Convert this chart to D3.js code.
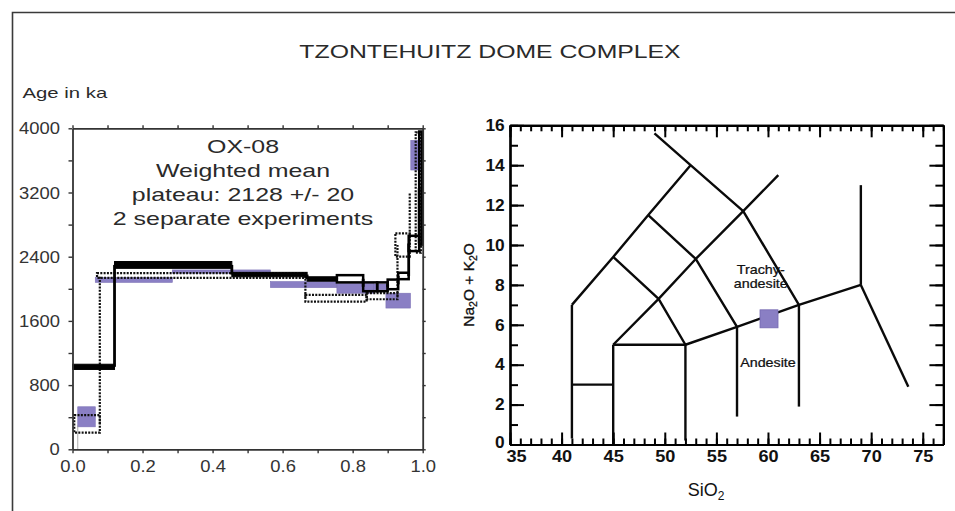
<!DOCTYPE html>
<html>
<head>
<meta charset="utf-8">
<script src="https://cdn.jsdelivr.net/npm/d3@7"></script>
<style>
  html, body { margin: 0; padding: 0; background: #fff; }
  svg { display: block; }
  text { font-family: "Liberation Sans", Arial, Helvetica, sans-serif; }
</style>
</head>
<body>
<svg id="chart" width="955" height="511"></svg>
<script>
// ---------------- DATA ----------------
const titleText = "TZONTEHUITZ DOME COMPLEX";
const ageAxisTitle = "Age in ka";
const infoLines = ["OX-08", "Weighted mean", "plateau: 2128 +/- 20", "2 separate experiments"];

// Age spectrum (x = cumulative fraction 39Ar, ages in ka) : [x0, x1, lowAge, highAge]
const expSolidFilled = [
  [0.000, 0.120, 995, 1060],
  [0.120, 0.455, 2255, 2340],
  [0.455, 0.670, 2150, 2205],
  [0.670, 0.755, 2095, 2150]
];
const expSolidOpen = [
  [0.755, 0.830, 2080, 2170],
  [0.830, 0.870, 1970, 2080],
  [0.870, 0.900, 1970, 2080],
  [0.900, 0.930, 1995, 2115],
  [0.930, 0.960, 2120, 2200],
  [0.960, 0.990, 2470, 2660],
  [0.990, 0.998, 2550, 3960]
];
const expPurple = [
  [0.015, 0.065, 280, 530],
  [0.065, 0.285, 2080, 2140],
  [0.285, 0.565, 2195, 2235],
  [0.565, 0.755, 2015, 2090],
  [0.755, 0.860, 1945, 2065],
  [0.860, 0.900, 1990, 2060],
  [0.895, 0.965, 1760, 1945],
  [0.966, 0.993, 3480, 3850]
];
const expDotted = [
  [0.005, 0.078, 207, 427],
  [0.070, 0.665, 2135, 2195],
  [0.665, 0.840, 1840, 1925],
  [0.840, 0.928, 1870, 1945],
  [0.922, 0.963, 2400, 2690],
  [0.980, 0.995, 2450, 3950]
];
const thinGrey = [[0.015, 0], [0.015, 300]];
const ageTicks = [0, 400, 800, 1200, 1600, 2000, 2400, 2800, 3200, 3600, 4000];
const ageTickLabels = [0, 800, 1600, 2400, 3200, 4000];
const fracTicks = [0, 0.1, 0.2, 0.3, 0.4, 0.5, 0.6, 0.7, 0.8, 0.9, 1.0];
const fracTickLabels = [0, 0.2, 0.4, 0.6, 0.8, 1.0];

// TAS diagram
const tasLines = [
  [[41, 0.3], [41, 7]],
  [[41, 3], [45, 3]],
  [[45, 0], [45, 5]],
  [[52, 0.2], [52, 5]],
  [[41, 7], [45, 9.4], [48.4, 11.5], [52.5, 14]],
  [[45, 5], [49.4, 7.3], [53, 9.3], [57.6, 11.7], [61, 13.5]],
  [[45, 5], [52, 5], [57, 5.9], [63, 7], [69, 8]],
  [[52, 5], [49.4, 7.3], [45, 9.4]],
  [[57, 5.9], [53, 9.3], [48.4, 11.5]],
  [[63, 7], [57.6, 11.7], [52.5, 14], [49, 15.6]],
  [[57, 1.4], [57, 5.9]],
  [[63, 1.9], [63, 7]],
  [[69, 8], [69, 13]],
  [[69, 8], [73.6, 2.9]]
];
const tasSample = [[60.1, 6.3]];
const tasLabels = [
  { lines: ["Trachy-", "andesite"], x: 59.3, y: 8.55 },
  { lines: ["Andesite"], x: 60.0, y: 3.9 }
];
const silicaMajor = [35, 40, 45, 50, 55, 60, 65, 70, 75];
const silicaMinor = d3.range(35, 78, 1);
const alkaliMajor = [0, 2, 4, 6, 8, 10, 12, 14, 16];
const alkaliMinor = d3.range(0, 17, 1);

// ---------------- DRAW ----------------
const svg = d3.select("#chart");
const FONT = '"Liberation Sans", Arial, Helvetica, sans-serif';

function stext(g, x, y, str, size, sx, anchor, weight, fill) {
  return g.append("text")
    .attr("transform", `translate(${x},${y}) scale(${sx},1)`)
    .attr("text-anchor", anchor || "middle")
    .attr("font-size", size)
    .attr("font-weight", weight || "normal")
    .attr("fill", fill || "#222")
    .text(str);
}

// outer frame
svg.append("path").attr("d", "M12.5,511 V12.5 H955").attr("fill", "none")
  .attr("stroke", "#3a3a3a").attr("stroke-width", 1.6);

stext(svg, 490, 58, titleText, 18.5, 1.34, "middle", "normal", "#2a2a2a");
stext(svg, 22.5, 98, ageAxisTitle, 15.4, 1.32, "start", "normal", "#2a2a2a");

// ----- Left: age spectrum -----
const xL = d3.scaleLinear().domain([0, 1]).range([72.5, 422.7]);
const yL = d3.scaleLinear().domain([0, 4000]).range([449.3, 128.3]);
const gL = svg.append("g");

infoLines.forEach((s, i) => {
  stext(gL, 243, [152.5, 176.7, 201, 225][i], s, 18.6, 1.34, "middle", "normal", "#2a2a2a");
});

// purple boxes
gL.selectAll("rect.purple").data(expPurple).join("rect").attr("class", "purple")
  .attr("x", d => xL(d[0])).attr("width", d => xL(d[1]) - xL(d[0]))
  .attr("y", d => yL(d[3])).attr("height", d => yL(d[2]) - yL(d[3]))
  .attr("fill", "#8a7fc4").attr("stroke", "#7b70b5").attr("stroke-width", 0.6);

gL.append("path").attr("d", d3.line().x(d => xL(d[0])).y(d => yL(d[1]))(thinGrey))
  .attr("stroke", "#999").attr("stroke-width", 0.8).attr("fill", "none");

// dotted experiment
const dotted = { stroke: "#111", w: 2.2, dash: "2,1.3" };
gL.selectAll("rect.dot").data(expDotted).join("rect").attr("class", "dot")
  .attr("x", d => xL(d[0])).attr("width", d => xL(d[1]) - xL(d[0]))
  .attr("y", d => yL(d[3])).attr("height", d => yL(d[2]) - yL(d[3]))
  .attr("fill", "none").attr("stroke", dotted.stroke).attr("stroke-width", dotted.w)
  .attr("stroke-dasharray", dotted.dash);
const dotConn = [];
for (let i = 0; i < expDotted.length - 1; i++) {
  const a = expDotted[i], b = expDotted[i + 1];
  dotConn.push([[a[1], (a[2] + a[3]) / 2], [a[1], (b[2] + b[3]) / 2]]);
}
gL.selectAll("path.dotc").data(dotConn).join("path").attr("class", "dotc")
  .attr("d", d3.line().x(d => xL(d[0])).y(d => yL(d[1])))
  .attr("fill", "none").attr("stroke", dotted.stroke).attr("stroke-width", dotted.w)
  .attr("stroke-dasharray", dotted.dash);

// solid experiment
const solidAll = expSolidFilled.concat(expSolidOpen);
const solConn = [];
for (let i = 0; i < solidAll.length - 1; i++) {
  const a = solidAll[i], b = solidAll[i + 1];
  solConn.push([[a[1], (a[2] + a[3]) / 2], [a[1], (b[2] + b[3]) / 2]]);
}
gL.selectAll("path.solc").data(solConn).join("path").attr("class", "solc")
  .attr("d", d3.line().x(d => xL(d[0])).y(d => yL(d[1])))
  .attr("fill", "none").attr("stroke", "#000").attr("stroke-width", 2.8);
gL.selectAll("rect.solf").data(expSolidFilled).join("rect").attr("class", "solf")
  .attr("x", d => xL(d[0])).attr("width", d => xL(d[1]) - xL(d[0]))
  .attr("y", d => yL(d[3])).attr("height", d => yL(d[2]) - yL(d[3]))
  .attr("fill", "#000").attr("stroke", "#000").attr("stroke-width", 1);
gL.selectAll("rect.solo").data(expSolidOpen).join("rect").attr("class", "solo")
  .attr("x", d => xL(d[0])).attr("width", d => xL(d[1]) - xL(d[0]))
  .attr("y", d => yL(d[3])).attr("height", d => yL(d[2]) - yL(d[3]))
  .attr("fill", "none").attr("stroke", "#000").attr("stroke-width", 2.5);

// axes left
const axisCol = "#333";
function styleAxis(g, w) {
  g.select(".domain").attr("stroke", axisCol).attr("stroke-width", w || 1.8);
  g.selectAll(".tick line").attr("stroke", axisCol).attr("stroke-width", 1.4);
  g.selectAll("text").attr("font-family", FONT).attr("fill", "#333");
}
const axLB = gL.append("g").attr("transform", `translate(0,${yL(0)})`)
  .call(d3.axisBottom(xL).tickValues(fracTicks).tickSizeInner(4).tickSizeOuter(0).tickPadding(7)
    .tickFormat(d => fracTickLabels.some(v => Math.abs(v - d) < 1e-9) ? d3.format(".1f")(d) : ""));
styleAxis(axLB);
axLB.selectAll("text").attr("font-size", 16).attr("transform", "scale(1.15,1)");
const axLT = gL.append("g").attr("transform", `translate(0,${yL(4000)})`)
  .call(d3.axisTop(xL).tickValues(fracTicks).tickSizeInner(3).tickSizeOuter(0).tickFormat(""));
styleAxis(axLT);
const axLL = gL.append("g").attr("transform", `translate(${xL(0)},0)`)
  .call(d3.axisLeft(yL).tickValues(ageTicks).tickSizeInner(4).tickSizeOuter(0).tickPadding(7)
    .tickFormat(d => ageTickLabels.includes(d) ? d : ""));
styleAxis(axLL);
axLL.selectAll("text").attr("font-size", 16).attr("transform", "scale(1.15,1)").attr("dy", "0.35em");
const axLR = gL.append("g").attr("transform", `translate(${xL(1)},0)`)
  .call(d3.axisRight(yL).tickValues(ageTicks).tickSizeInner(3).tickSizeOuter(0).tickFormat(""));
styleAxis(axLR);

// ----- Right: TAS diagram -----
const xR = d3.scaleLinear().domain([35, 77]).range([510, 943.4]);
const yR = d3.scaleLinear().domain([0, 16]).range([444.5, 125.3]);
const gR = svg.append("g");

gR.selectAll("path.tas").data(tasLines).join("path").attr("class", "tas")
  .attr("d", d3.line().x(d => xR(d[0])).y(d => yR(d[1])))
  .attr("fill", "none").attr("stroke", "#0a0a0a").attr("stroke-width", 2.4)
  .attr("stroke-linejoin", "round");

gR.selectAll("rect.sample").data(tasSample).join("rect").attr("class", "sample")
  .attr("x", d => xR(d[0]) - 9).attr("y", d => yR(d[1]) - 9)
  .attr("width", 18).attr("height", 18)
  .attr("fill", "#8a7fc4").attr("stroke", "#7468b0").attr("stroke-width", 0.8);

tasLabels.forEach(l => {
  l.lines.forEach((s, i) => {
    stext(gR, xR(l.x), yR(l.y) + i * 14, s, 13, 1.1, "middle", "normal", "#111")
      .attr("stroke", "#111").attr("stroke-width", 0.25);
  });
});

function styleR(g) {
  g.select(".domain").attr("stroke", "#000").attr("stroke-width", 2.2);
  g.selectAll(".tick line").attr("stroke", "#000").attr("stroke-width", 2);
  g.selectAll("text").attr("font-family", FONT).attr("fill", "#111")
    .attr("font-size", 16.5).attr("font-weight", "bold");
}
// bottom
const bMin = gR.append("g").attr("transform", `translate(0,${yR(0)})`)
  .call(d3.axisBottom(xR).tickValues(silicaMinor).tickSizeInner(-6).tickSizeOuter(0).tickFormat(""));
styleR(bMin);
const bMaj = gR.append("g").attr("transform", `translate(0,${yR(0)})`)
  .call(d3.axisBottom(xR).tickValues(silicaMajor).tickSizeInner(-12).tickSizeOuter(0).tickPadding(6));
styleR(bMaj);
bMaj.selectAll("text").attr("transform", d => d === 35 ? "translate(6,0) scale(1.1,1)" : "scale(1.1,1)");
// top
const tMin = gR.append("g").attr("transform", `translate(0,${yR(16)})`)
  .call(d3.axisTop(xR).tickValues(silicaMinor).tickSizeInner(-6).tickSizeOuter(0).tickFormat(""));
styleR(tMin);
const tMaj = gR.append("g").attr("transform", `translate(0,${yR(16)})`)
  .call(d3.axisTop(xR).tickValues(silicaMajor).tickSizeInner(-12).tickSizeOuter(0).tickFormat(""));
styleR(tMaj);
// left
const lMin = gR.append("g").attr("transform", `translate(${xR(35)},0)`)
  .call(d3.axisLeft(yR).tickValues(alkaliMinor).tickSizeInner(-8).tickSizeOuter(0).tickFormat(""));
styleR(lMin);
const lMaj = gR.append("g").attr("transform", `translate(${xR(35)},0)`)
  .call(d3.axisLeft(yR).tickValues(alkaliMajor).tickSizeInner(-14).tickSizeOuter(0).tickPadding(5));
styleR(lMaj);
lMaj.selectAll("text").attr("transform", d => d === 0 ? "translate(0,-2) scale(1.05,1)" : "scale(1.05,1)");
// right
const rMin = gR.append("g").attr("transform", `translate(${xR(77)},0)`)
  .call(d3.axisRight(yR).tickValues(alkaliMinor).tickSizeInner(-8).tickSizeOuter(0).tickFormat(""));
styleR(rMin);
const rMaj = gR.append("g").attr("transform", `translate(${xR(77)},0)`)
  .call(d3.axisRight(yR).tickValues(alkaliMajor).tickSizeInner(-14).tickSizeOuter(0).tickFormat(""));
styleR(rMaj);

// axis titles (with subscripts)
const xt = gR.append("text").attr("transform", `translate(${xR(54)},496)`)
  .attr("text-anchor", "middle").attr("font-size", 18).attr("fill", "#111");
xt.append("tspan").text("SiO");
xt.append("tspan").attr("font-size", 12).attr("dy", 4).text("2");

const yt = gR.append("text").attr("transform", `translate(474,${yR(8)}) rotate(-90)`)
  .attr("text-anchor", "middle").attr("font-size", 15.5).attr("fill", "#111")
  .attr("stroke", "#111").attr("stroke-width", 0.3);
yt.append("tspan").text("Na");
yt.append("tspan").attr("font-size", 10.5).attr("dy", 3).text("2");
yt.append("tspan").attr("dy", -3).text("O + K");
yt.append("tspan").attr("font-size", 10.5).attr("dy", 3).text("2");
yt.append("tspan").attr("dy", -3).text("O");
</script>
</body>
</html>
